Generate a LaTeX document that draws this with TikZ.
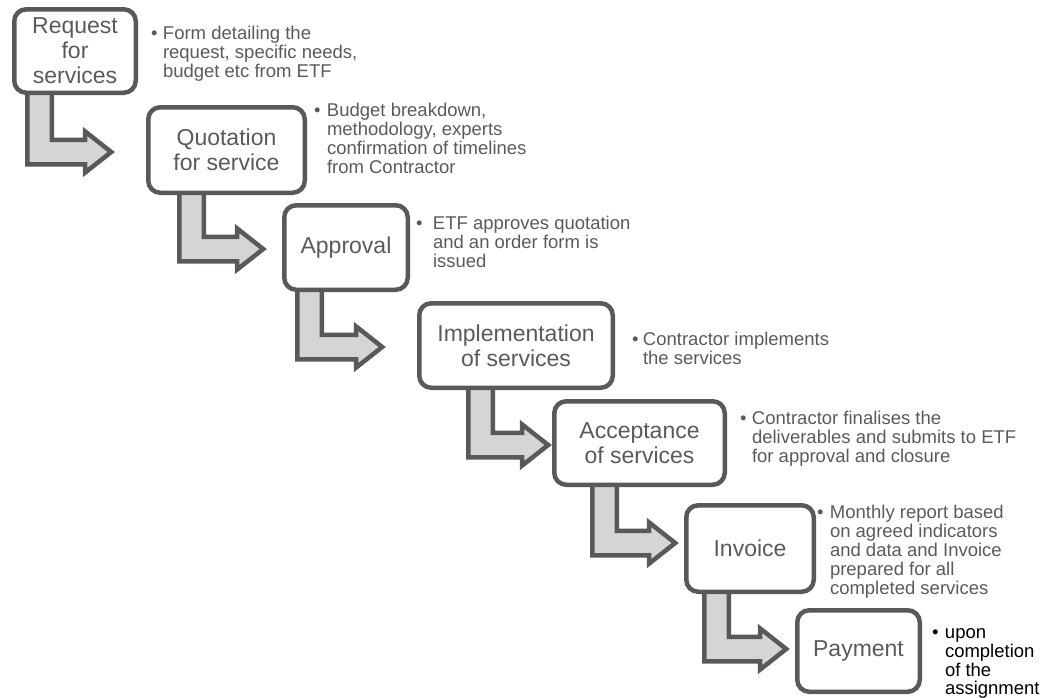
\documentclass[tikz,border=0pt]{standalone}
\usepackage{fontspec}
\setmainfont{Liberation Sans}
\usetikzlibrary{calc}
\definecolor{edgegray}{HTML}{595959}
\definecolor{txtgray}{HTML}{5A5A5A}
\definecolor{arrfill}{HTML}{D4D6D5}
\newcommand{\bdesc}[2][11]{\begin{tabular}[t]{@{}l@{}l@{}}\makebox[#1pt][l]{•}&#2\end{tabular}}
\pgfdeclarelayer{bg}
\pgfsetlayers{bg,main}
% #1 source node, #2 target node, #3 outer left x of stem, #4 gap tip->target, #5 y offset (down)
\newcommand{\bentarrow}[5]{%
  \draw[flow] let \p1=(#1.south), \p2=(#2.west) in
    ({#3pt+2.25pt},{\y1+10pt})
    -- ({#3pt+2.25pt},{\y2-(#5pt)-12.25pt})
    -- ({\x2-(#4pt)-3.8pt-26pt},{\y2-(#5pt)-12.25pt})
    -- ({\x2-(#4pt)-3.8pt-26pt},{\y2-(#5pt)-20.5pt})
    -- ({\x2-(#4pt)-3.8pt},{\y2-(#5pt)})
    -- ({\x2-(#4pt)-3.8pt-26pt},{\y2-(#5pt)+20.5pt})
    -- ({\x2-(#4pt)-3.8pt-26pt},{\y2-(#5pt)+12.25pt})
    -- ({#3pt+26.75pt},{\y2-(#5pt)+12.25pt})
    -- ({#3pt+26.75pt},{\y1+10pt})
    -- cycle;}
\begin{document}
\begin{tikzpicture}[x=1pt,y=-1pt,
  box/.style={draw=edgegray, line width=4.5pt, rounded corners=12pt, fill=white,
    text=txtgray, align=center, inner sep=0pt, outer sep=2.25pt,
    font=\fontsize{23}{25}\selectfont},
  desc/.style={anchor=base west, inner sep=0pt, outer sep=0pt, text=txtgray,
    font=\fontsize{18.5}{19}\selectfont},
  flow/.style={draw=edgegray, line width=4.5pt, fill=arrfill, line join=miter}]
\useasboundingbox (0,0) rectangle (1042,697);

\node[box, minimum width=121.5pt, minimum height=83.5pt] (b1) at (75,51) {Request\\for\\services};
\node[box, minimum width=156.5pt, minimum height=85.5pt] (b2) at (226.5,150) {Quotation\\for service};
\node[box, minimum width=123.5pt, minimum height=84.5pt] (b3) at (346,247.5) {Approval};
\node[box, minimum width=193.5pt, minimum height=84.5pt] (b4) at (516,345.5) {Implementation\\of services};
\node[box, minimum width=170.5pt, minimum height=83.5pt] (b5) at (639.5,443) {Acceptance\\of services};
\node[box, minimum width=127.5pt, minimum height=86.5pt] (b6) at (750,548.5) {Invoice};
\node[box, minimum width=122.5pt, minimum height=81.5pt] (b7) at (858.5,651) {Payment};

\begin{pgfonlayer}{bg}
\bentarrow{b1}{b2}{25}{31}{2}
\bentarrow{b2}{b3}{177}{15}{1.5}
\bentarrow{b3}{b4}{295}{31}{1.5}
\bentarrow{b4}{b5}{466}{0}{2}
\bentarrow{b5}{b6}{590}{5}{-5.5}
\bentarrow{b6}{b7}{702}{5}{-2}
\end{pgfonlayer}

\node[desc] (d1) at (151,39.5) {\bdesc[12]{Form detailing the\\&request, specific needs,\\&budget etc from ETF}};
\node[desc, font=\fontsize{18.5}{18.4}\selectfont] (d2) at (314,116.5) {\bdesc[13]{Budget breakdown,\\&methodology, experts\\&confirmation of timelines\\&from Contractor}};
\node[desc] (d3) at (416,229.5) {\bdesc[17]{ETF approves quotation\\&and an order form is\\&issued}};
\node[desc] (d4) at (632,345.5) {\bdesc[11]{Contractor implements\\&the services}};
\node[desc] (d5) at (740,424.5) {\bdesc[12]{Contractor finalises the\\&deliverables and submits to ETF\\&for approval and closure}};
\node[desc] (d6) at (817,518.5) {\bdesc[13]{Monthly report based\\&on agreed indicators\\&and data and Invoice\\&prepared for all\\&completed services}};
\node[desc, text=black, font=\fontsize{18.5}{18}\selectfont] (d7) at (932,638.5) {\bdesc[13]{upon\\&completion\\&of the\\&assignment}};
\end{tikzpicture}
\end{document}
